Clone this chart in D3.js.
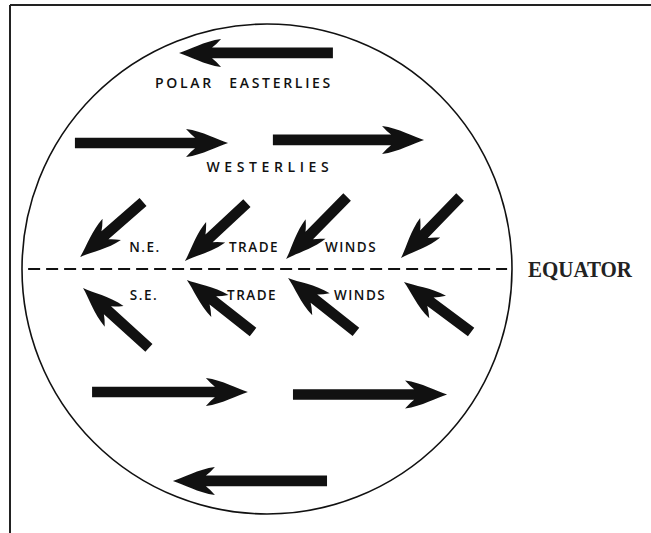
<!DOCTYPE html>
<html>
<head>
<meta charset="utf-8">
<script src="https://d3js.org/d3.v7.min.js"></script>
<style>
  body { margin: 0; background: #fff; }
</style>
</head>
<body>
<div id="chart"></div>
<script>
// globe coords: percent of globe radius, centre = 0,0
let beltNames = ["POLAR EASTERLIES", "WESTERLIES"];
let beltLabelX = [-9.4, 1.2];
let beltLabelY = [75.9, 41.6];

// horizontal belt arrows: y, tail x, tip x
let beltArrowY    = [88.2, 51.4, 52.7, -50.2, -51.2, -86.5];
let beltArrowTail = [26.9, -78.4, 2.4, -71.4, 10.6, 24.5];
let beltArrowTip  = [-35.9, -15.9, 64.1, -7.8, 73.5, -38.4];

// trade winds: tail (x,y) -> tip (x,y)
let tradeTailX = [-50.6, -8.2, 32.7, 78.8, -48.2, -5.7, 36.3, 83.3];
let tradeTailY = [27.3, 26.9, 29.4, 29.4, -32.2, -25.7, -25.7, -25.7];
let tradeTipX  = [-76.3, -33.5, 7.8, 54.7, -75.1, -32.7, 8.6, 55.9];
let tradeTipY  = [4.9, 3.3, 4.1, 4.5, -7.8, -4.5, -3.7, -5.3];

let tradeWords  = ["N.E.", "TRADE", "WINDS", "S.E.", "TRADE", "WINDS"];
let tradeWordX  = [-49.8, -5.3, 34.3, -50.2, -6.1, 38];
let tradeWordY  = [9.0, 9.0, 9.0, -10.6, -10.6, -10.6];

let equatorLabel = "EQUATOR";

let width = 651;
let height = 533;

let svg = d3.select("#chart").append("svg")
   .attr("width", width)
   .attr("height", height);

let cx = 267, cy = 269, rad = 245;
let x = d3.scaleLinear().domain([-100, 100]).range([cx - rad, cx + rad]);
let y = d3.scaleLinear().domain([-100, 100]).range([cy + rad, cy - rad]);

// frame (top + left)
svg.append("line")
    .attr("x1", 10).attr("y1", 5).attr("x2", width).attr("y2", 5)
    .attr("stroke", "#222").attr("stroke-width", 2);
svg.append("line")
    .attr("x1", 10).attr("y1", 5).attr("x2", 10).attr("y2", height)
    .attr("stroke", "#222").attr("stroke-width", 2);

// globe
svg.append("circle")
    .attr("cx", x(0))
    .attr("cy", y(0))
    .attr("r", x(100) - x(0))
    .attr("fill", "none")
    .attr("stroke", "#111")
    .attr("stroke-width", 1.6);

// equator
svg.append("line")
    .attr("x1", x(-97.5)).attr("y1", y(0))
    .attr("x2", x(98)).attr("y2", y(0))
    .attr("stroke", "#111")
    .attr("stroke-width", 2)
    .style("stroke-dasharray", ("12,6"));

svg.append("text")
    .text(equatorLabel)
    .attr("x", 528)
    .attr("y", y(0))
    .attr("dy", "0.36em")
    .attr("font-family", "Liberation Serif, Times New Roman, serif")
    .attr("font-weight", "bold")
    .attr("font-size", 23)
    .attr("textLength", 104)
    .attr("lengthAdjust", "spacingAndGlyphs")
    .attr("fill", "#222");

// arrow outline along +x, tail at 0, tip at len
function arrowPath(len){
    let w = 5.3, h = 42, hw = 14;
    let b = len - h;
    return "M0," + (-w) +
        " L" + (b + 9) + "," + (-w) +
        " Q" + (b + 5) + "," + (-w - 3) + " " + b + "," + (-hw) +
        " C" + (b + h * 0.4) + "," + (-hw * 0.85) + " " + (b + h * 0.75) + ",-3 " + len + ",0" +
        " C" + (b + h * 0.75) + ",3 " + (b + h * 0.4) + "," + (hw * 0.85) + " " + b + "," + hw +
        " Q" + (b + 5) + "," + (w + 3) + " " + (b + 9) + "," + w +
        " L0," + w + " Z";
}

function drawArrow(x1, y1, x2, y2){
    let px1 = x(x1), py1 = y(y1), px2 = x(x2), py2 = y(y2);
    let len = Math.hypot(px2 - px1, py2 - py1);
    let ang = Math.atan2(py2 - py1, px2 - px1) * 180 / Math.PI;
    svg.append("path")
        .attr("d", arrowPath(len))
        .attr("transform", "translate(" + px1 + "," + py1 + ") rotate(" + ang + ")")
        .attr("fill", "#111");
}

for(let i = 0; i < beltArrowY.length; i++){
    drawArrow(beltArrowTail[i], beltArrowY[i], beltArrowTip[i], beltArrowY[i]);
}
for(let i = 0; i < tradeTailX.length; i++){
    drawArrow(tradeTailX[i], tradeTailY[i], tradeTipX[i], tradeTipY[i]);
}

let labelFont = "Open Sans, DejaVu Sans, sans-serif";
let beltSpacing = [2.7, 4.6];

beltNames.forEach(function(d, i){
    svg.append("text")
        .text(d)
        .attr("x", x(beltLabelX[i]))
        .attr("y", y(beltLabelY[i]))
        .attr("dy", "0.36em")
        .attr("text-anchor", "middle")
        .attr("font-family", labelFont)
        .attr("font-weight", 600)
        .attr("font-size", 14)
        .attr("letter-spacing", beltSpacing[i])
        .attr("word-spacing", 9)
        .attr("fill", "#111");
});

tradeWords.forEach(function(d, i){
    svg.append("text")
        .text(d)
        .attr("x", x(tradeWordX[i]))
        .attr("y", y(tradeWordY[i]))
        .attr("dy", "0.36em")
        .attr("text-anchor", "middle")
        .attr("font-family", labelFont)
        .attr("font-weight", 600)
        .attr("font-size", 13.5)
        .attr("letter-spacing", 1.5)
        .attr("fill", "#111");
});
</script>
</body>
</html>
